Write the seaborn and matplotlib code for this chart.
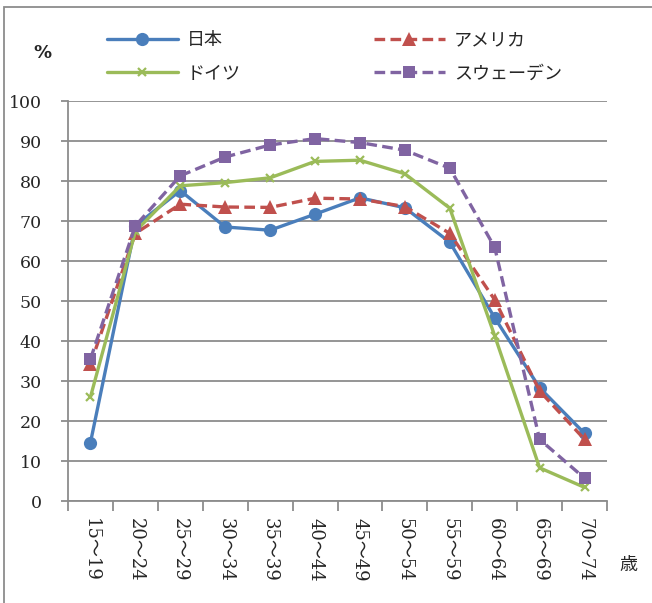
import numpy as np
import pandas as pd
import matplotlib
matplotlib.use("Agg")
import matplotlib.pyplot as plt
from matplotlib.lines import Line2D
from matplotlib.patches import Rectangle
import seaborn as sns

# Age groups and labour force participation (%) by country
age_groups = ["15～19", "20～24", "25～29", "30～34", "35～39", "40～44",
              "45～49", "50～54", "55～59", "60～64", "65～69", "70～74"]
japan = [14.6, 68.8, 77.6, 68.5, 67.7, 71.7, 75.8, 73.3, 64.7, 45.8, 28.3, 16.9]
usa = [34.2, 66.9, 74.2, 73.5, 73.4, 75.7, 75.5, 73.6, 66.9, 50.3, 27.5, 15.4]
germany = [26.0, 67.4, 78.8, 79.6, 80.8, 84.9, 85.2, 81.8, 73.2, 41.3, 8.3, 3.4]
sweden = [35.5, 68.8, 81.3, 86.0, 89.0, 90.6, 89.6, 87.7, 83.2, 63.4, 15.4, 5.7]
countries = ["日本", "アメリカ", "ドイツ", "スウェーデン"]
y_ticks = [0, 10, 20, 30, 40, 50, 60, 70, 80, 90, 100]

series = {"日本": japan, "アメリカ": usa, "ドイツ": germany, "スウェーデン": sweden}
pos = np.arange(len(age_groups))
df = pd.DataFrame([
    {"pos": p, "rate": v, "country": c}
    for c in countries for p, v in zip(pos, series[c])
])

sns.set_theme(style="white")
plt.rcParams["font.family"] = ["DejaVu Serif", "Noto Sans CJK JP"]

styles = {
    "日本": dict(color="#4A7EBB", marker="o", ms=9.5, dash=None, mew=0),
    "アメリカ": dict(color="#C0504D", marker="^", ms=10, dash=(3.2, 1.6), mew=0),
    "ドイツ": dict(color="#9BBB59", marker="x", ms=6, dash=None, mew=1.6),
    "スウェーデン": dict(color="#8064A2", marker="s", ms=8, dash=(3.2, 1.6), mew=0),
}

fig = plt.figure(figsize=(6.52, 6.03), dpi=100)
ax = fig.add_axes([68 / 652, 1 - 501 / 603, (607 - 68) / 652, 400 / 603])

handles = {}
for c in countries:
    st = styles[c]
    sub = df[df["country"] == c]
    sns.lineplot(data=sub, x="pos", y="rate", ax=ax, color=st["color"],
                 linewidth=2.4, marker=st["marker"], markersize=st["ms"],
                 markeredgewidth=st["mew"], markeredgecolor=st["color"],
                 legend=False, zorder=3)
    ln = ax.lines[-1]
    h = Line2D([], [], color=st["color"], linewidth=2.4,
               marker=st["marker"], markersize=st["ms"],
               markeredgewidth=st["mew"], markeredgecolor=st["color"])
    if st["dash"] is not None:
        ln.set_dashes(st["dash"])
        h.set_dashes(st["dash"])
    handles[c] = h

ax.set_xlim(-0.5, len(age_groups) - 0.5)
ax.set_ylim(0, 100)
ax.set_yticks(y_ticks)
ax.set_yticklabels([str(v) for v in y_ticks], fontsize=12.5,
                   family=["DejaVu Serif"])
ax.yaxis.grid(True, color="#8c8c8c", linewidth=1.3)
ax.set_axisbelow(True)

# category boundaries carry the tick marks, labels sit at the centres
ax.set_xticks(np.arange(-0.5, len(age_groups), 1.0))
ax.set_xticklabels([])
ax.set_xticks(pos, minor=True)
ax.set_xticklabels(age_groups, minor=True, rotation=-90, fontsize=13,
                   family=["DejaVu Serif", "Noto Sans CJK JP"], va="top")
ax.tick_params(axis="x", which="major", direction="out", length=7,
               width=1.3, color="#8c8c8c", bottom=True)
ax.tick_params(axis="x", which="minor", length=0, pad=12)
ax.tick_params(axis="y", direction="out", length=5, width=1.3,
               color="#8c8c8c", left=True, pad=14)
for side in ["top", "right"]:
    ax.spines[side].set_visible(False)
for side in ["left", "bottom"]:
    ax.spines[side].set_color("#8c8c8c")
    ax.spines[side].set_linewidth(1.3)
ax.set_xlabel("")
ax.set_ylabel("")

# two rows: 日本 / アメリカ on top, ドイツ / スウェーデン below
order = ["日本", "ドイツ", "アメリカ", "スウェーデン"]
fig.legend([handles[c] for c in order], order, ncol=2, loc="upper left",
           bbox_to_anchor=(100 / 652, 1 - 24 / 603), frameon=False,
           prop={"family": ["Noto Sans CJK JP"], "size": 13},
           handlelength=3.9, handletextpad=0.5, columnspacing=7.4,
           labelspacing=0.85, borderaxespad=0)

fig.text(42 / 652, 1 - 53 / 603, "%", fontsize=13, fontweight="bold",
         family=["DejaVu Sans"], ha="center", va="center")
fig.text(628 / 652, 1 - 565 / 603, "歳", fontsize=13,
         family=["Noto Sans CJK JP"], ha="center", va="center")

fig.patches.append(Rectangle((4 / 652, -0.05), 1.2, 1 - 7 / 603 + 0.05,
                             transform=fig.transFigure, fill=False,
                             edgecolor="#8c8c8c", linewidth=1.3))

fig.savefig("out.png", dpi=100)
